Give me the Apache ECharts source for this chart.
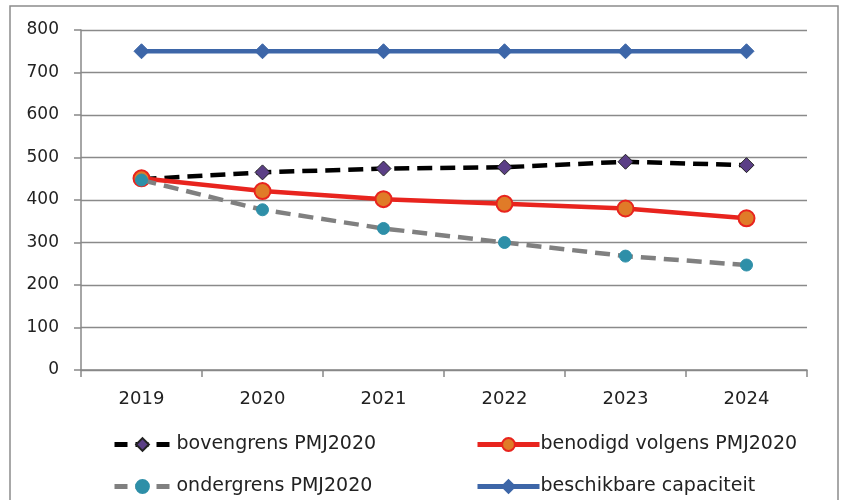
<!DOCTYPE html>
<html><head><meta charset="utf-8">
<script src="https://cdn.jsdelivr.net/npm/echarts@6/dist/echarts.min.js"></script>
<style>html,body{margin:0;padding:0;background:#fff}#c{width:843px;height:500px}</style>
</head><body><div id="c"></div>
<script>
const years = ['2019','2020','2021','2022','2023','2024'];
const bovengrens = [449, 465, 474, 477, 490, 482];
const benodigd = [451, 421, 402, 391, 380, 357];
const ondergrens = [447, 377, 333, 300, 268, 247];
const capaciteit = [750, 750, 750, 750, 750, 750];
const yTicks = {min: 0, max: 800, interval: 100};

const chart = echarts.init(document.getElementById('c'));
const font = '"DejaVu Sans", sans-serif';
chart.setOption({
  animation: false,
  textStyle: {fontFamily: font},
  graphic: [{type: 'rect', shape: {x: 10, y: 6, width: 828, height: 500},
    style: {fill: 'none', stroke: '#8c8c8c', lineWidth: 1.5}, silent: true}],
  grid: {left: 81, right: 36, top: 30, bottom: 130, containLabel: false},
  xAxis: {type: 'category', data: years, boundaryGap: true,
    axisLine: {lineStyle: {color: '#888', width: 1.5}},
    axisTick: {show: true, length: 7, lineStyle: {color: '#888', width: 1.5}},
    axisLabel: {color: '#222', fontSize: 18, margin: 20, fontFamily: font}},
  yAxis: {type: 'value', min: yTicks.min, max: yTicks.max, interval: yTicks.interval,
    axisLine: {show: true, lineStyle: {color: '#888', width: 1.5}},
    axisTick: {show: true, length: 7, lineStyle: {color: '#888', width: 1.5}},
    splitLine: {lineStyle: {color: '#8a8a8a', width: 1.3}},
    axisLabel: {color: '#222', fontSize: 17, margin: 22, fontFamily: font}},
  legend: [
    {left: 112, top: 435, width: 320, height: 120, padding: 0, orient: 'vertical',
     itemGap: 23, itemWidth: 56, itemHeight: 16,
     textStyle: {fontSize: 19, color: '#222', fontFamily: font, padding: [0, 0, 0, 1]},
     lineStyle: {width: 5, type: [13, 8]},
     data: ['bovengrens PMJ2020', 'ondergrens PMJ2020']},
    {left: 475, top: 435, width: 360, height: 120, padding: 0, orient: 'vertical',
     itemGap: 23, itemWidth: 62, itemHeight: 16,
     textStyle: {fontSize: 19, color: '#222', fontFamily: font, padding: [0, 0, 0, -4]},
     lineStyle: {width: 5},
     data: ['benodigd volgens PMJ2020', 'beschikbare capaciteit']}
  ],
  series: [
    {name: 'bovengrens PMJ2020', type: 'line', data: bovengrens,
     lineStyle: {color: '#000', width: 4.5, type: [15, 8]},
     symbol: 'diamond', symbolSize: 15,
     itemStyle: {color: '#5B3F86', borderColor: '#222', borderWidth: 1}, z: 3},
    {name: 'benodigd volgens PMJ2020', type: 'line', data: benodigd,
     lineStyle: {color: '#E8241E', width: 4.5},
     symbol: 'circle', symbolSize: 16,
     itemStyle: {color: '#E07B28', borderColor: '#E8241E', borderWidth: 2}, z: 4},
    {name: 'ondergrens PMJ2020', type: 'line', data: ondergrens,
     lineStyle: {color: '#808080', width: 4.5, type: [15, 8]},
     symbol: 'circle', symbolSize: 12,
     itemStyle: {color: '#2E8FA8', borderColor: '#2E8FA8', borderWidth: 1}, z: 5},
    {name: 'beschikbare capaciteit', type: 'line', data: capaciteit,
     lineStyle: {color: '#3D66A8', width: 4.5},
     symbol: 'diamond', symbolSize: 15,
     itemStyle: {color: '#3D66A8', borderColor: '#3D66A8', borderWidth: 1}, z: 2}
  ]
});
</script></body></html>
